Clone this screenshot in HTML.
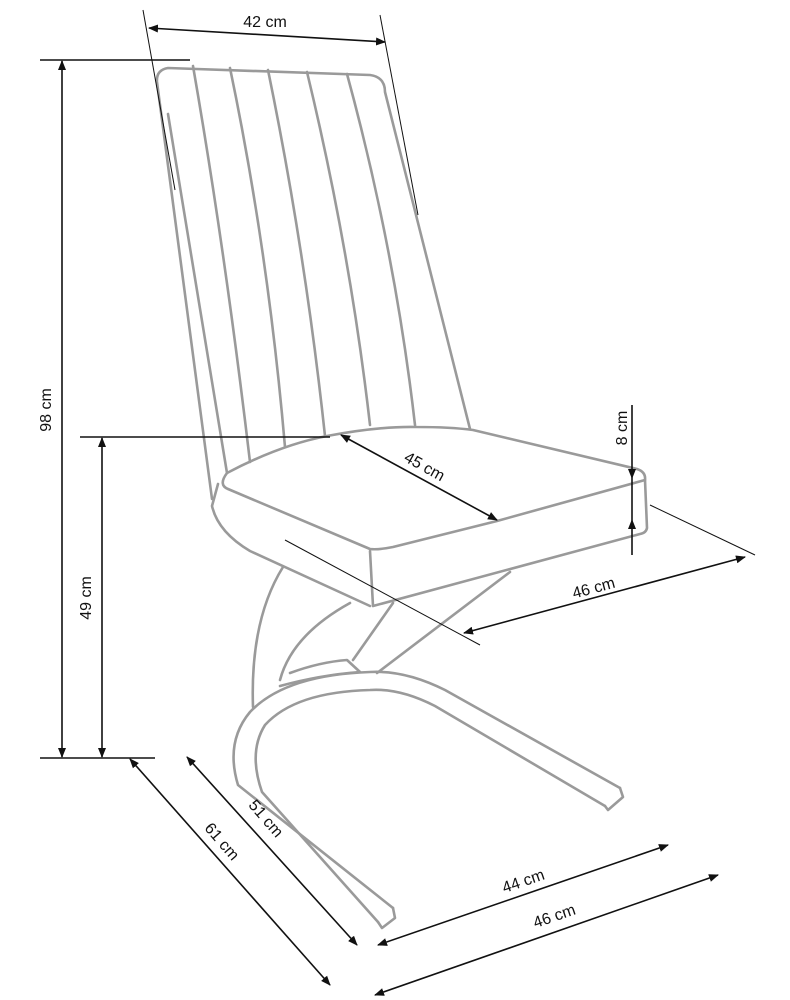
<!DOCTYPE html>
<html><head><meta charset="utf-8"><style>
html,body{margin:0;padding:0;background:#fff;}
svg{display:block}
text{font-family:"Liberation Sans",sans-serif;font-size:16px;fill:#111}
</style></head><body>
<svg width="790" height="1000" viewBox="0 0 790 1000" xmlns="http://www.w3.org/2000/svg">
<defs>
<marker id="a" viewBox="0 0 10 10" refX="9" refY="5" markerWidth="10" markerHeight="10" orient="auto-start-reverse" markerUnits="userSpaceOnUse">
<path d="M0,1 L10,5 L0,9 z" fill="#111"/></marker>
</defs>
<g fill="none" stroke="#9a9a9a" stroke-width="2.6" stroke-linejoin="round" stroke-linecap="round">
<path d="M212,499 L157,82 Q156,70 168,68 L370,75 Q385,77 385,92 L470,429"/>
<path d="M168,114 L227,473"/>
<path d="M193,66 Q225,250 250,462"/>
<path d="M230,68 Q268,250 285,447"/>
<path d="M268,70 Q305,250 325,436"/>
<path d="M307,72 Q350,250 370,425"/>
<path d="M347,74 Q395,250 415,425"/>
<path d="M227,473 Q280,445 327,436 Q380,426 417,427 Q450,427 473,430 L637,469 Q646,472 645,480 L497,521 L393,547 Q378,550 370,549 L228,489 Q218,485 227,473 Z"/>
<path d="M645,480 L647,528 Q646,533 640,534 L373,606 L370,551"/>
<path d="M218,484 L212,506 Q218,532 250,551 L370,606"/>
<path d="M283,567 Q250,620 253,707"/>
<path d="M350,603 Q292,635 280,680"/>
<path d="M393,603 L353,660"/>
<path d="M510,572 L377,673"/>
<path d="M290,673 Q320,662 347,660 L360,672"/>
<path d="M280,686 Q320,675 360,672"/>
<path d="M620,788 L445,690 Q405,670 370,672 Q285,675 250,712 Q225,742 238,785 L393,908"/>
<path d="M605,806 L435,706 Q400,688 370,690 Q295,692 265,725 Q248,752 262,792 L378,922"/>
<path d="M620,788 L623,797 L608,810 L605,806"/>
<path d="M393,908 L395,918 L382,928 L378,922"/>
</g>
<g stroke="#111" stroke-width="1.6" fill="none">
<line x1="143" y1="10" x2="175" y2="190" stroke-width="1"/>
<line x1="380" y1="15" x2="418" y2="215" stroke-width="1"/>
<line x1="149" y1="28" x2="385" y2="42" marker-start="url(#a)" marker-end="url(#a)"/>
<line x1="40" y1="60" x2="190" y2="60"/>
<line x1="62" y1="61" x2="62" y2="757" marker-start="url(#a)" marker-end="url(#a)"/>
<line x1="80" y1="437" x2="330" y2="437"/>
<line x1="102" y1="438" x2="102" y2="757" marker-start="url(#a)" marker-end="url(#a)"/>
<line x1="40" y1="758" x2="155" y2="758"/>
<line x1="341" y1="435" x2="497" y2="520" marker-start="url(#a)" marker-end="url(#a)"/>
<line x1="632" y1="405" x2="632" y2="478" marker-end="url(#a)"/>
<line x1="632" y1="555" x2="632" y2="520" marker-end="url(#a)"/>
<line x1="632" y1="478" x2="632" y2="520"/>
<line x1="285" y1="540" x2="480" y2="645" stroke-width="1"/>
<line x1="650" y1="505" x2="755" y2="555" stroke-width="1"/>
<line x1="464" y1="633" x2="745" y2="557" marker-start="url(#a)" marker-end="url(#a)"/>
<line x1="130" y1="759" x2="330" y2="985" marker-start="url(#a)" marker-end="url(#a)"/>
<line x1="187" y1="757" x2="357" y2="945" marker-start="url(#a)" marker-end="url(#a)"/>
<line x1="378" y1="945" x2="668" y2="845" marker-start="url(#a)" marker-end="url(#a)"/>
<line x1="375" y1="995" x2="718" y2="875" marker-start="url(#a)" marker-end="url(#a)"/>
</g>
<text x="265" y="27" text-anchor="middle">42 cm</text>
<text transform="translate(51,410) rotate(-90)" text-anchor="middle">98 cm</text>
<text transform="translate(91,598) rotate(-90)" text-anchor="middle">49 cm</text>
<text transform="translate(422,471) rotate(29)" text-anchor="middle">45 cm</text>
<text transform="translate(627,428) rotate(-90)" text-anchor="middle">8 cm</text>
<text transform="translate(595,593) rotate(-15)" text-anchor="middle">46 cm</text>
<text transform="translate(218,845) rotate(49)" text-anchor="middle">61 cm</text>
<text transform="translate(262,822) rotate(49)" text-anchor="middle">51 cm</text>
<text transform="translate(525,886) rotate(-19)" text-anchor="middle">44 cm</text>
<text transform="translate(556,921) rotate(-19)" text-anchor="middle">46 cm</text>
</svg>
</body></html>
